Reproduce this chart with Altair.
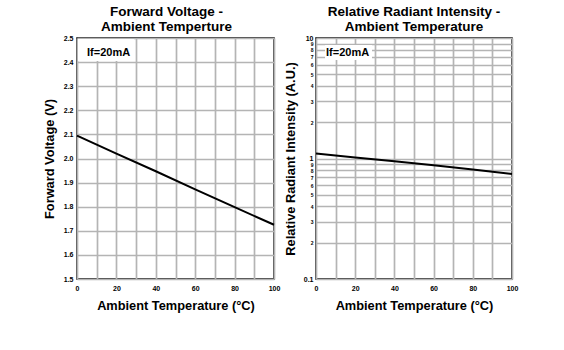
import altair as alt
import pandas as pd

temps = [0, 20, 40, 60, 80, 100]
forward_voltage = [2.095, 2.02, 1.947, 1.872, 1.798, 1.725]
relative_intensity = [1.1, 1.02, 0.95, 0.88, 0.81, 0.745]

x_grid = [0, 10, 20, 30, 40, 50, 60, 70, 80, 90, 100]
vf_ticks = [1.5, 1.6, 1.7, 1.8, 1.9, 2.0, 2.1, 2.2, 2.3, 2.4, 2.5]
log_ticks = [0.1, 0.2, 0.3, 0.4, 0.5, 0.6, 0.7, 0.8, 0.9,
             1, 2, 3, 4, 5, 6, 7, 8, 9, 10]
note = "If=20mA"

FONT = "Liberation Sans"
GRID = "#b4b4b4"

df_vf = pd.DataFrame({"t": temps, "v": forward_voltage})
df_ri = pd.DataFrame({"t": temps, "r": relative_intensity})

x_axis = alt.Axis(
    values=x_grid,
    labelExpr="datum.value % 20 == 0 ? datum.label : ''",
    format="d",
    title="Ambient Temperature (°C)",
    grid=True, gridColor=GRID, gridWidth=1.7,
    ticks=False, domain=False,
    labelFont=FONT, labelFontSize=7, labelFontWeight="bold", labelPadding=5,
    labelFlush=False,
    titleFont=FONT, titleFontSize=12.8, titleFontWeight="bold", titlePadding=8,
    labelColor="black", titleColor="black",
)

# ---------- left panel ----------
vf_line = alt.Chart(df_vf).mark_line(color="black", strokeWidth=2).encode(
    x=alt.X("t:Q", scale=alt.Scale(domain=[0, 100], nice=False), axis=x_axis),
    y=alt.Y("v:Q", scale=alt.Scale(domain=[1.5, 2.5], nice=False, zero=False),
            axis=alt.Axis(values=vf_ticks, format=".1f", title="Forward Voltage (V)",
                          grid=True, gridColor=GRID, gridWidth=1.7,
                          ticks=False, domain=False,
                          labelFont=FONT, labelFontSize=7, labelFontWeight="bold",
                          labelPadding=4, labelFlush=False,
                          titleFont=FONT, titleFontSize=12.8, titleFontWeight="bold",
                          titlePadding=7, labelColor="black", titleColor="black")),
)
box_l = alt.Chart(pd.DataFrame({"n": [note]})).mark_rect(color="white").encode(
    x=alt.value(1), x2=alt.value(57), y=alt.value(1), y2=alt.value(23))
txt_l = alt.Chart(pd.DataFrame({"n": [note]})).mark_text(
    font=FONT, fontSize=11, fontWeight="bold", color="black", align="left", baseline="middle"
).encode(x=alt.value(10), y=alt.value(15), text="n:N")

left = alt.layer(vf_line, box_l, txt_l).properties(
    width=197, height=241,
    title=alt.TitleParams(["Forward Voltage -", "Ambient Temperture"], font=FONT,
                          fontSize=13.5, fontWeight="bold", lineHeight=15,
                          frame="group", anchor="middle", dx=-9, offset=1, color="black"),
)

# ---------- right panel ----------
big = "datum.value == 0.1 || datum.value == 1 || datum.value == 10"
ri_line = alt.Chart(df_ri).mark_line(color="black", strokeWidth=2).encode(
    x=alt.X("t:Q", scale=alt.Scale(domain=[0, 100], nice=False), axis=x_axis),
    y=alt.Y("r:Q", scale=alt.Scale(type="log", domain=[0.1, 10], nice=False),
            axis=alt.Axis(values=log_ticks,
                          labelExpr="(" + big + ") ? (datum.value == 0.1 ? '0.1' : format(datum.value, 'd')) : format(datum.value < 1 ? datum.value * 10 : datum.value, '.0f')",
                          title="Relative Radiant Intensity (A.U.)",
                          grid=True, gridColor=GRID, gridWidth=1.5,
                          ticks=False, domain=False,
                          labelFont=FONT,
                          labelFontSize={"condition": {"test": big, "value": 7}, "value": 5},
                          labelFontWeight="bold",
                          labelPadding=3, labelFlush=False, labelOverlap=False,
                          titleFont=FONT, titleFontSize=12.8, titleFontWeight="bold",
                          titlePadding=6, labelColor="black", titleColor="black")),
)
box_r = alt.Chart(pd.DataFrame({"n": [note]})).mark_rect(color="white").encode(
    x=alt.value(9), x2=alt.value(56), y=alt.value(7), y2=alt.value(22))
txt_r = alt.Chart(pd.DataFrame({"n": [note]})).mark_text(
    font=FONT, fontSize=11, fontWeight="bold", color="black", align="left", baseline="middle"
).encode(x=alt.value(10), y=alt.value(15), text="n:N")

right = alt.layer(ri_line, box_r, txt_r).properties(
    width=196, height=241,
    title=alt.TitleParams(["Relative Radiant Intensity -", "Ambient Temperature"], font=FONT,
                          fontSize=13.5, fontWeight="bold", lineHeight=15,
                          frame="group", anchor="middle", offset=1, color="black"),
)

chart = alt.hconcat(left, right, spacing=2).configure_view(
    stroke="black", strokeWidth=1.5
).properties(
    background="white",
    padding={"left": 42, "top": 3, "right": 5, "bottom": 5},
)

chart.save("out.html", embed_options={"renderer": "svg", "actions": False})
